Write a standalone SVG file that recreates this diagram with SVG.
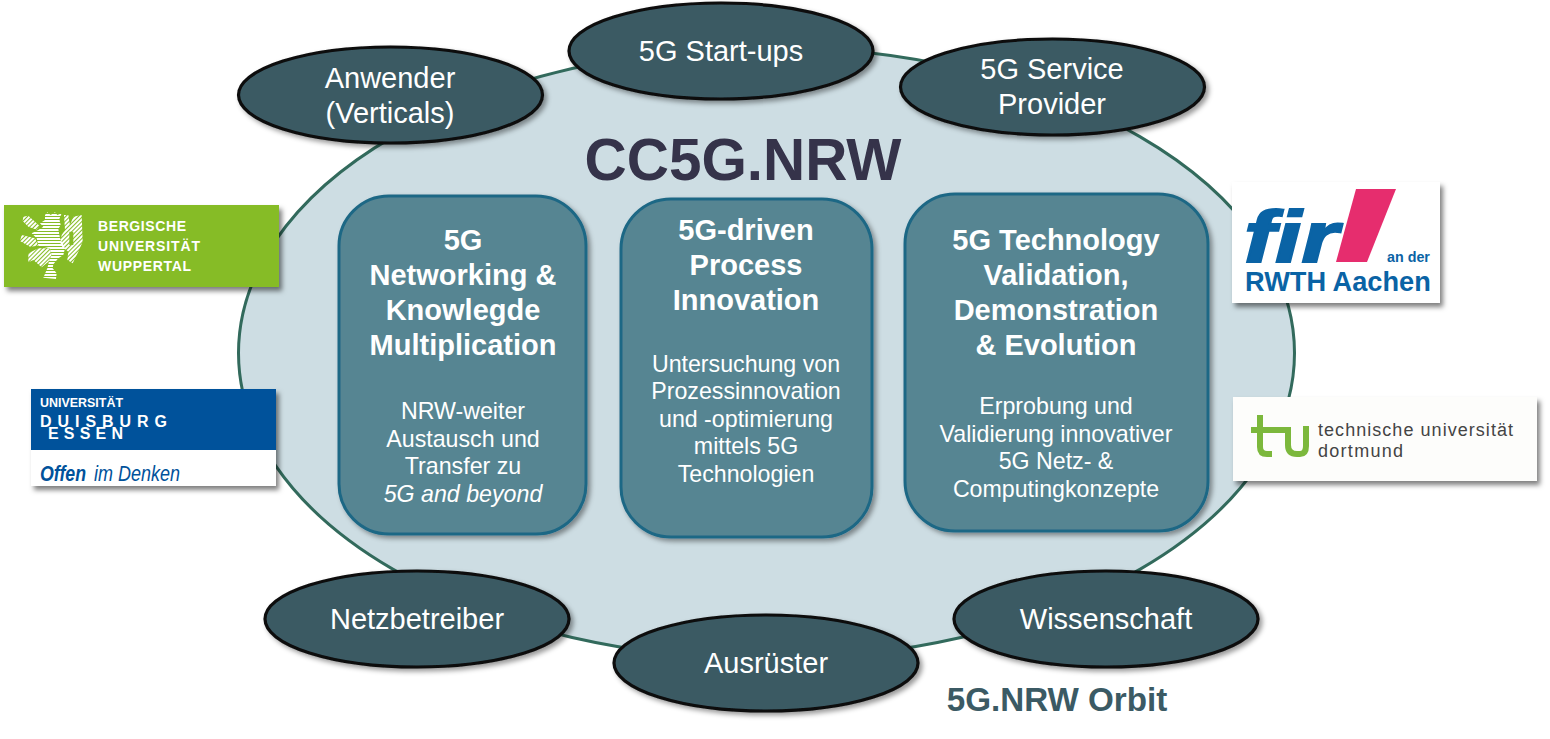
<svg xmlns="http://www.w3.org/2000/svg" width="1550" height="739" viewBox="0 0 1550 739">
<style>
text{font-family:"Liberation Sans",Arial,sans-serif;text-anchor:middle}
.orb{fill:#3b5a64;stroke:#0c0c0c;stroke-width:3.2;filter:url(#sh)}
.orbt{fill:#fff;font-size:29px}
.box{fill:#578592;stroke:#1f6785;stroke-width:3;filter:url(#sh)}
.h{fill:#fff;font-size:29px;font-weight:bold}
.b{fill:#fff;font-size:23.2px}
.logo{filter:url(#sh2)}
.l{text-anchor:start}
</style>
<defs>
<filter id="sh" x="-10%" y="-10%" width="120%" height="125%"><feDropShadow dx="3" dy="3" stdDeviation="2.5" flood-color="#000" flood-opacity=".4"/></filter>
<filter id="sh2" x="-10%" y="-10%" width="120%" height="125%"><feDropShadow dx="3" dy="4" stdDeviation="2.5" flood-color="#000" flood-opacity=".5"/></filter>
<pattern id="hs" width="12" height="9" patternUnits="userSpaceOnUse"><rect width="12" height="6" fill="#fff"/></pattern>
<pattern id="ds" width="12" height="9" patternUnits="userSpaceOnUse" patternTransform="rotate(-45)"><rect width="12" height="6" fill="#fff"/></pattern>
</defs>
<g id="core"><ellipse cx="766.5" cy="353" rx="528" ry="306" fill="#cddde3" stroke="#326a5c" stroke-width="3"/></g>
<g id="connectors"></g>
<g id="node-anwender"><ellipse class="orb" cx="390.5" cy="95" rx="152" ry="48"/><text class="orbt" x="390" y="88">Anwender</text><text class="orbt" x="390" y="123">(Verticals)</text></g>
<g id="node-startups"><ellipse class="orb" cx="721" cy="51" rx="152" ry="48"/><text class="orbt" x="721" y="61">5G Start-ups</text></g>
<g id="node-service"><ellipse class="orb" cx="1052.5" cy="87" rx="152" ry="48"/><text class="orbt" x="1052" y="79">5G Service</text><text class="orbt" x="1052" y="114">Provider</text></g>
<g id="node-netz"><ellipse class="orb" cx="417" cy="619" rx="152" ry="48"/><text class="orbt" x="417" y="629">Netzbetreiber</text></g>
<g id="node-ausruester"><ellipse class="orb" cx="766" cy="663" rx="152" ry="48"/><text class="orbt" x="766" y="673">Ausrüster</text></g>
<g id="node-wissenschaft"><ellipse class="orb" cx="1106" cy="619" rx="152" ry="48"/><text class="orbt" x="1106" y="629">Wissenschaft</text></g>
<text id="title" x="743" y="180" font-size="58.4" font-weight="bold" fill="#35334a">CC5G.NRW</text>
<g id="box-1"><rect class="box" x="339" y="196" width="247" height="338" rx="50"/>
<text class="h" x="463" y="250">5G</text><text class="h" x="463" y="285">Networking &amp;</text><text class="h" x="463" y="320">Knowlegde</text><text class="h" x="463" y="355">Multiplication</text>
<text class="b" x="463" y="419">NRW-weiter</text><text class="b" x="463" y="447">Austausch und</text><text class="b" x="463" y="474">Transfer zu</text><text class="b" x="463" y="502" font-style="italic">5G and beyond</text></g>
<g id="box-2"><rect class="box" x="621" y="199" width="251" height="338" rx="50"/>
<text class="h" x="746" y="240">5G-driven</text><text class="h" x="746" y="275">Process</text><text class="h" x="746" y="310">Innovation</text>
<text class="b" x="746" y="372">Untersuchung von</text><text class="b" x="746" y="399">Prozessinnovation</text><text class="b" x="746" y="427">und -optimierung</text><text class="b" x="746" y="454">mittels 5G</text><text class="b" x="746" y="482">Technologien</text></g>
<g id="box-3"><rect class="box" x="905" y="194" width="303" height="337" rx="50"/>
<text class="h" x="1056" y="250">5G Technology</text><text class="h" x="1056" y="285">Validation,</text><text class="h" x="1056" y="320">Demonstration</text><text class="h" x="1056" y="355">&amp; Evolution</text>
<text class="b" x="1056" y="414">Erprobung und</text><text class="b" x="1056" y="442">Validierung innovativer</text><text class="b" x="1056" y="469">5G Netz- &amp;</text><text class="b" x="1056" y="497">Computingkonzepte</text></g>
<text id="orbit" x="1057" y="711" font-size="33.2" font-weight="bold" fill="#3b5a64">5G.NRW Orbit</text>
<g id="logo-wuppertal"><rect class="logo" x="4" y="205" width="275" height="82" fill="#86bc25"/>
<g transform="translate(10 205) scale(.3333)">
<path d="M105 30L112 22L122 30L135 22L142 30L155 25L148 42L152 60L145 72L150 100L165 130L160 150L145 160L130 178L128 190L140 205L138 222L100 218L112 190L118 165L125 150L120 130L85 122L80 100L65 85L85 75L100 65L90 55L105 45Z" fill="url(#hs)"/>
<path d="M40 35L55 32L88 62L80 74L55 65L38 48ZM35 90L75 100L85 122L60 125L30 108ZM55 145L85 130L120 130L125 150L115 170L95 187L70 165L55 172ZM162 30L175 30L180 60L190 35L215 30L218 110L205 140L188 175L172 165L175 140L150 120L155 90L165 75ZM178 80L178 120L190 120L190 80Z" fill="url(#ds)" fill-rule="evenodd"/>
</g>
<g fill="#fff" font-size="14" font-weight="bold"><text class="l" x="98" y="231" textLength="88">BERGISCHE</text><text class="l" x="98" y="251" textLength="102">UNIVERSITÄT</text><text class="l" x="98" y="271" textLength="93">WUPPERTAL</text></g></g>
<g id="logo-due"><rect class="logo" x="31" y="389" width="245" height="97" fill="#fff"/><rect x="31" y="389" width="245" height="61" fill="#00529b"/>
<g fill="#fff" font-weight="bold"><text class="l" x="40" y="407" font-size="12" textLength="83" lengthAdjust="spacingAndGlyphs">UNIVERSITÄT</text><text class="l" x="40" y="427" font-size="16" textLength="127">DUISBURG</text><text class="l" x="48" y="439" font-size="16" textLength="75">ESSEN</text></g>
<g fill="#00529b" font-size="22" font-style="italic"><text class="l" x="40" y="481" font-weight="bold" textLength="46" lengthAdjust="spacingAndGlyphs">Offen</text><text class="l" x="94" y="481" textLength="86" lengthAdjust="spacingAndGlyphs">im Denken</text></g></g>
<g id="logo-fir"><rect class="logo" x="1232" y="182" width="208" height="121" fill="#fff"/>
<polygon points="1356,189 1396,189 1367,262 1336,262" fill="#e62d6e"/>
<text class="l" x="1244" y="262" font-size="72" font-weight="bold" font-style="italic" fill="#0a63a5" stroke="#0a63a5" stroke-width="2" textLength="94" lengthAdjust="spacingAndGlyphs">fir</text>
<text class="l" x="1387" y="262" font-size="14.3" font-weight="bold" fill="#0a63a5">an der</text>
<text class="l" x="1245" y="291" font-size="27.2" font-weight="bold" fill="#0a63a5">RWTH Aachen</text></g>
<g id="logo-tud"><rect class="logo" x="1233" y="397" width="304" height="84" fill="#fdfdfb"/>
<path d="M1251 430H1288V445Q1288 454 1297 454H1300Q1306 454 1306 446V426M1260 415V447Q1260 454 1267 454H1272" fill="none" stroke="#7cb83c" stroke-width="6"/>
<text class="l" x="1318" y="436" font-size="18" fill="#444" textLength="195">technische universität</text><text class="l" x="1318" y="457" font-size="18" fill="#444" textLength="85">dortmund</text></g>
</svg>
